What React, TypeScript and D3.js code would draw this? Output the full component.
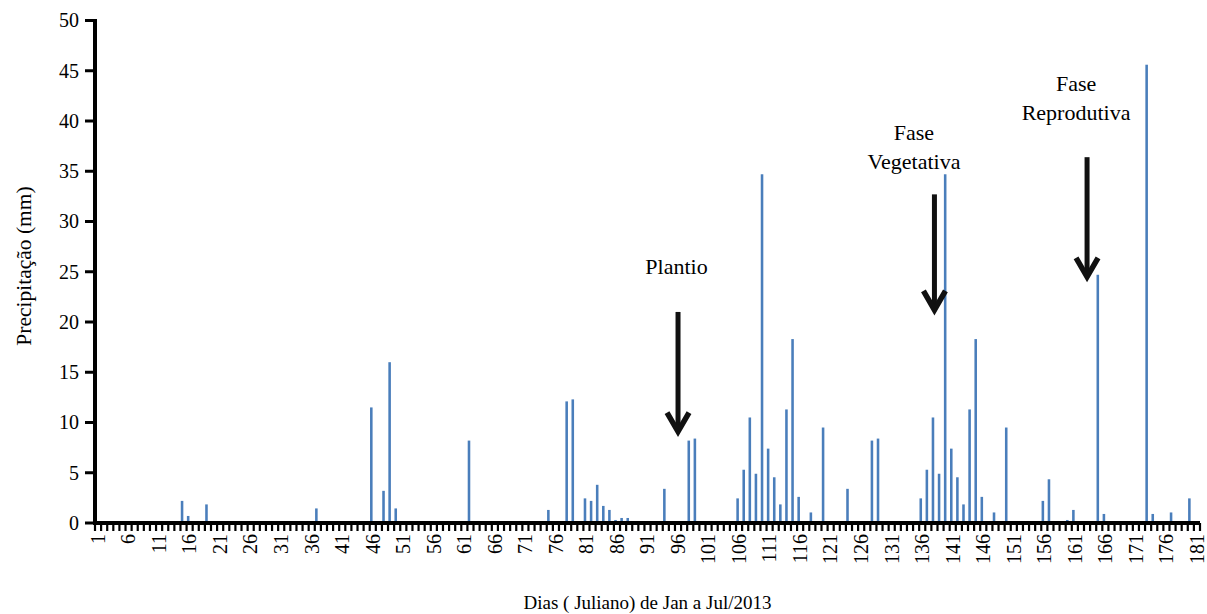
import React, {useEffect, useRef} from 'react';
import * as d3 from 'd3';

// julian days with rain and the amount (mm)
const rainDays = [15, 16, 19, 37, 46, 48, 49, 50, 62, 75, 78, 79, 81, 82, 83, 84, 85, 86, 87, 88, 94, 98, 99,
    106, 107, 108, 109, 110, 111, 112, 113, 114, 115, 116, 118, 120, 124, 128, 129,
    136, 137, 138, 139, 140, 141, 142, 143, 144, 145, 146, 148, 150, 156, 157, 160, 161, 165, 166, 173, 174, 177, 180]
const rainMm = [2.2, 0.7, 1.85, 1.45, 11.5, 3.2, 16.0, 1.45, 8.2, 1.3, 12.1, 12.3, 2.45, 2.2, 3.8, 1.7, 1.3, 0.3, 0.5, 0.5, 3.4, 8.2, 8.4,
    2.45, 5.3, 10.5, 4.9, 34.7, 7.4, 4.55, 1.85, 11.3, 18.3, 2.6, 1.05, 9.5, 3.4, 8.2, 8.4,
    2.45, 5.3, 10.5, 4.9, 34.7, 7.4, 4.55, 1.85, 11.3, 18.3, 2.6, 1.05, 9.5, 2.2, 4.35, 0.3, 1.3, 24.7, 0.9, 45.6, 0.9, 1.05, 2.45]

const allDays = d3.range(1, 182)
const dayLabels = d3.range(1, 182, 5)
const yTicks = d3.range(0, 51, 5)

// phase annotations: text lines, where text sits, arrow from/to (mm)
const phaseNames = [['Plantio'], ['Fase', 'Vegetativa'], ['Fase', 'Reprodutiva']]
const phaseTextDay = [95.75, 134.65, 161.2]
const phaseTextMm = [25.5, 38.9, 43.7]
const phaseArrowDay = [96, 138, 163]
const phaseArrowTop = [21, 32.7, 36.4]
const phaseArrowTip = [8.8, 20.9, 24.2]

const App = () => {

    const svgRef = useRef()

    const dimensions = {
        width: 1207,
        height: 614,
        left: 95,
        right: 1200,
        top: 20.5,
        bottom: 523
    }

    useEffect(() => {

        const svg = d3.select(svgRef.current)
        svg.selectAll('*').remove()

        const xScale = d3.scaleBand()
            .domain(allDays)
            .range([dimensions.left, dimensions.right])
            .padding(0)

        const yScale = d3.scaleLinear()
            .domain([0, 50])
            .range([dimensions.bottom, dimensions.top])

        const step = xScale.step()
        const xCenter = d => xScale(Math.floor(d)) + step / 2 + (d % 1) * step
        const font = 'Liberation Serif, DejaVu Serif, serif'

        // bars
        const data = rainDays.map((d, i) => ({day: d, mm: rainMm[i]}))
        svg.append('g')
            .selectAll('rect')
            .data(data)
            .join('rect')
                .attr('x', d => xScale(d.day) + step * 0.05)
                .attr('y', d => yScale(d.mm))
                .attr('width', step * 0.42)
                .attr('height', d => yScale(0) - yScale(d.mm))
                .attr('fill', '#4a7ebb')

        // y axis
        const yAxis = svg.append('g')
        yAxis.append('line')
            .attr('x1', dimensions.left).attr('x2', dimensions.left)
            .attr('y1', yScale(50) - 1.5).attr('y2', yScale(0) + 2)
            .attr('stroke', '#000').attr('stroke-width', 4)
        yAxis.selectAll('.ytick')
            .data(yTicks)
            .join('line')
                .attr('class', 'ytick')
                .attr('x1', dimensions.left - 10).attr('x2', dimensions.left)
                .attr('y1', d => yScale(d)).attr('y2', d => yScale(d))
                .attr('stroke', '#000').attr('stroke-width', 3)
        yAxis.selectAll('.ylabel')
            .data(yTicks)
            .join('text')
                .attr('class', 'ylabel')
                .attr('x', dimensions.left - 16)
                .attr('y', d => yScale(d))
                .attr('dy', '0.34em')
                .attr('text-anchor', 'end')
                .attr('font-family', font)
                .attr('font-size', 20)
                .text(d => d)

        // x axis
        const xAxis = svg.append('g')
        xAxis.selectAll('.xtick')
            .data(d3.range(0, allDays.length + 1))
            .join('line')
                .attr('class', 'xtick')
                .attr('x1', i => dimensions.left + i * step)
                .attr('x2', i => dimensions.left + i * step)
                .attr('y1', yScale(0))
                .attr('y2', yScale(0) + 8)
                .attr('stroke', '#000').attr('stroke-width', 2.2)
        xAxis.append('line')
            .attr('x1', dimensions.left - 2).attr('x2', dimensions.right)
            .attr('y1', yScale(0)).attr('y2', yScale(0))
            .attr('stroke', '#000').attr('stroke-width', 4)
        xAxis.selectAll('.xlabel')
            .data(dayLabels)
            .join('text')
                .attr('class', 'xlabel')
                .attr('transform', d => `translate(${xScale(d) + step / 2}, ${yScale(0) + 11}) rotate(-90)`)
                .attr('dy', '0.34em')
                .attr('text-anchor', 'end')
                .attr('font-family', font)
                .attr('font-size', 20)
                .text(d => d)

        // axis titles
        svg.append('text')
            .attr('x', (dimensions.left + dimensions.right) / 2)
            .attr('y', 609)
            .attr('text-anchor', 'middle')
            .attr('font-family', font)
            .attr('font-size', 19)
            .text('Dias ( Juliano) de Jan a Jul/2013')

        svg.append('text')
            .attr('transform', `translate(24, 266) rotate(-90)`)
            .attr('dy', '0.34em')
            .attr('text-anchor', 'middle')
            .attr('font-family', font)
            .attr('font-size', 21.5)
            .text('Precipitação (mm)')

        // phase notes and arrows
        const notes = svg.append('g')
        phaseNames.forEach((lines, i) => {
            const tx = xCenter(phaseTextDay[i])
            lines.forEach((line, j) => {
                notes.append('text')
                    .attr('x', tx)
                    .attr('y', yScale(phaseTextMm[i]) + j * 29)
                    .attr('dy', '0.34em')
                    .attr('text-anchor', 'middle')
                    .attr('font-family', font)
                    .attr('font-size', 22)
                    .text(line)
            })
            const ax = xCenter(phaseArrowDay[i])
            const top = yScale(phaseArrowTop[i])
            const tip = yScale(phaseArrowTip[i])
            notes.append('line')
                .attr('x1', ax).attr('x2', ax)
                .attr('y1', top).attr('y2', tip - 3)
                .attr('stroke', '#111').attr('stroke-width', 5)
            notes.append('path')
                .attr('d', `M${ax - 11},${tip - 22} L${ax},${tip - 3} L${ax + 11},${tip - 22}`)
                .attr('fill', 'none')
                .attr('stroke', '#111')
                .attr('stroke-width', 5.5)
        })

    }, [])

    return (
        <svg ref={svgRef} width={dimensions.width} height={dimensions.height}
            style={{position: 'absolute', left: 0, top: 0, background: '#fff'}} />
    )
}

export default App
